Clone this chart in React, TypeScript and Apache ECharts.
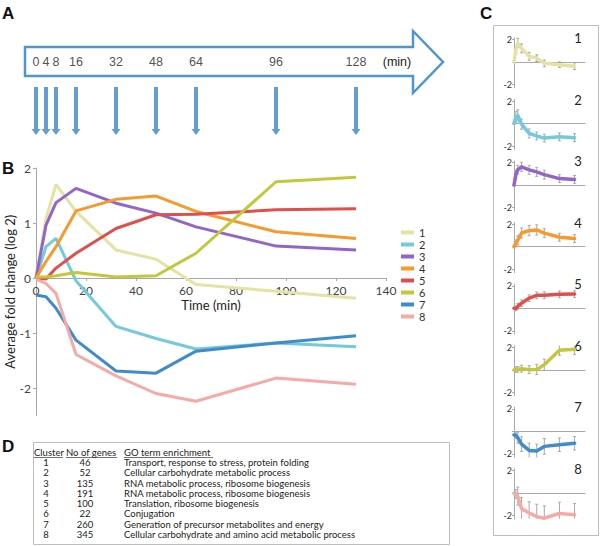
import React, { useEffect, useRef } from "react";
import * as echarts from "echarts";

// ---------- DATA ----------
const timePoints = [0, 4, 8, 16, 32, 48, 64, 96, 128];
const clusterNames = ["1", "2", "3", "4", "5", "6", "7", "8"];
const clusterColors = ["#e4e3a3", "#72cadb", "#9265c6", "#f7992d", "#df4f4b", "#c3c73b", "#3f8cca", "#f5aaa5"];

const c1 = [0, 1.08, 1.7, 1.21, 0.51, 0.34, -0.12, -0.24, -0.37];
const c2 = [0, 0.57, 0.72, -0.05, -0.88, -1.1, -1.29, -1.18, -1.25];
const c3 = [0, 0.96, 1.37, 1.63, 1.36, 1.18, 0.93, 0.58, 0.51];
const c4 = [0, 0.3, 0.57, 1.22, 1.43, 1.49, 1.21, 0.84, 0.72];
const c5 = [0, -0.02, 0.18, 0.45, 0.9, 1.15, 1.16, 1.24, 1.26];
const c6 = [0.02, 0.02, 0.04, 0.1, 0.02, 0.04, 0.45, 1.75, 1.83];
const c7 = [-0.31, -0.34, -0.55, -1.13, -1.69, -1.73, -1.33, -1.18, -1.05];
const c8 = [-0.02, -0.1, -0.28, -1.39, -1.78, -2.1, -2.24, -1.82, -1.93];
const clusterValues = [c1, c2, c3, c4, c5, c6, c7, c8];

const sd1 = [0.1, 0.3, 0.4, 0.4, 0.35, 0.3, 0.3, 0.25, 0.3];
const sd2 = [0.1, 0.5, 0.5, 0.45, 0.4, 0.35, 0.35, 0.35, 0.35];
const sd3 = [0.1, 0.35, 0.4, 0.4, 0.4, 0.4, 0.4, 0.35, 0.35];
const sd4 = [0.1, 0.3, 0.4, 0.45, 0.45, 0.45, 0.4, 0.35, 0.35];
const sd5 = [0.1, 0.2, 0.25, 0.3, 0.3, 0.3, 0.3, 0.3, 0.3];
const sd6 = [0.15, 0.25, 0.25, 0.3, 0.35, 0.45, 0.5, 0.45, 0.45];
const sd7 = [0.1, 0.3, 0.5, 0.65, 0.65, 0.6, 0.7, 0.6, 0.6];
const sd8 = [0.1, 0.4, 0.8, 1.0, 1.0, 1.1, 1.1, 1.0, 1.0];
const clusterSd = [sd1, sd2, sd3, sd4, sd5, sd6, sd7, sd8];

const bTicks = [-2, -1, 0, 1, 2];
const cTicks = [-2, 2];

const geneCounts = ["46", "52", "135", "191", "100", "22", "260", "345"];
const goTerms = [
  "Transport, response to stress, protein folding",
  "Cellular carbohydrate metabolic process",
  "RNA metabolic process, ribosome biogenesis",
  "RNA metabolic process, ribosome biogenesis",
  "Translation, ribosome biogenesis",
  "Conjugation",
  "Generation of precursor metabolites and energy",
  "Cellular carbohydrate and amino acid metabolic process",
];
const tableHeaders = ["Cluster", "No of genes", "GO term enrichment"];

// ---------- LAYOUT ----------
const FONT = "Lato, 'Noto Sans', sans-serif";
const ARIAL = "'Liberation Sans', Arial, sans-serif";
const B_LEFT = 36;
const B_WIDTH = 350;
const B_TOP = 168;
const B_MIN = -2.5;
const B_MAX = 2;
const B_UNIT = 55;
const C_LEFT = 514;
const C_WIDTH = 71;
const C_ZERO0 = 62;
const C_STEP = 61.57;
const C_UNIT = 11.25;
const C_MIN = -2.3;
const C_MAX = 2.15;

export default function App() {
  const ref = useRef<HTMLDivElement>(null);

  useEffect(() => {
    document.body.style.margin = "0";
    const chart = echarts.init(ref.current!, null, { renderer: "svg" });

    const bHeight = (B_MAX - B_MIN) * B_UNIT;
    const bZeroOffset = -(-B_MIN * B_UNIT); // move the x axis up from the grid bottom to y = 0

    const grids: any[] = [
      { left: B_LEFT, top: 30, width: B_WIDTH, height: 100, outerBoundsMode: "none" },
      { left: B_LEFT, top: B_TOP, width: B_WIDTH, height: bHeight, outerBoundsMode: "none" },
    ];
    const xAxes: any[] = [
      { gridIndex: 0, type: "value", min: 0, max: 140, show: false },
      {
        gridIndex: 1,
        type: "value",
        min: 0,
        max: 140,
        interval: 20,
        position: "bottom",
        offset: bZeroOffset,
        axisLine: { onZero: false, lineStyle: { color: "#a8a8a8", width: 1 } },
        axisTick: { show: true, length: 3, lineStyle: { color: "#a8a8a8" } },
        axisLabel: { fontSize: 12, color: "#444", fontFamily: FONT, margin: 6 },
        splitLine: { show: false },
        name: "Time (min)",
        nameLocation: "middle",
        nameGap: 20,
        nameMoveOverlap: false,
        nameTextStyle: { fontSize: 13, color: "#222", fontFamily: FONT },
      },
    ];
    const yAxes: any[] = [
      { gridIndex: 0, type: "value", min: 0, max: 100, inverse: true, show: false },
      {
        gridIndex: 1,
        type: "value",
        min: B_MIN,
        max: B_MAX,
        axisLine: { show: true, lineStyle: { color: "#a8a8a8", width: 1 } },
        axisTick: { show: true, length: 3, customValues: bTicks, lineStyle: { color: "#a8a8a8" } },
        axisLabel: { customValues: bTicks, fontSize: 12, color: "#444", fontFamily: FONT, margin: 5 },
        splitLine: { show: false },
        name: "Average fold change (log 2)",
        nameLocation: "middle",
        nameGap: 20,
        nameMoveOverlap: false,
        nameTextStyle: { fontSize: 13, color: "#222", fontFamily: FONT },
      },
    ];

    const series: any[] = [];

    // Panel A: time labels and sampling arrows
    series.push({
      type: "scatter",
      xAxisIndex: 0,
      yAxisIndex: 0,
      symbolSize: 1,
      itemStyle: { color: "rgba(0,0,0,0)" },
      silent: true,
      data: timePoints.map((t) => [t, 32]),
      label: {
        show: true,
        position: "inside",
        formatter: (p: any) => String(p.value[0]),
        fontSize: 12.5,
        color: "#222",
        fontFamily: ARIAL,
      },
    });
    series.push({
      type: "scatter",
      xAxisIndex: 0,
      yAxisIndex: 0,
      symbol: "path://M2.5,0 H6.5 V42 H9 L4.5,48 L0,42 H2.5 Z",
      symbolSize: [9, 48],
      itemStyle: { color: "#3d84c4" },
      silent: true,
      data: timePoints.map((t) => [t, 81]),
    });

    // Panel B: main lines
    clusterValues.forEach((vals, i) => {
      series.push({
        name: clusterNames[i],
        type: "line",
        xAxisIndex: 1,
        yAxisIndex: 1,
        showSymbol: false,
        lineStyle: { width: 3, color: clusterColors[i] },
        itemStyle: { color: clusterColors[i] },
        data: timePoints.map((t, j) => [t, vals[j]]),
      });
    });

    // Panel C: mini charts
    clusterValues.forEach((vals, i) => {
      const gi = i + 2;
      const zero = C_ZERO0 + i * C_STEP;
      grids.push({
        left: C_LEFT,
        top: zero - C_MAX * C_UNIT,
        width: C_WIDTH,
        height: (C_MAX - C_MIN) * C_UNIT,
        outerBoundsMode: "none",
      });
      xAxes.push({
        gridIndex: gi,
        type: "value",
        min: 0,
        max: 150,
        axisLine: { onZero: true, lineStyle: { color: "#aaa", width: 1 } },
        axisTick: { show: false },
        axisLabel: { show: false },
        splitLine: { show: false },
      });
      yAxes.push({
        gridIndex: gi,
        type: "value",
        min: C_MIN,
        max: C_MAX,
        axisLine: { show: true, lineStyle: { color: "#aaa", width: 1 } },
        axisTick: { show: true, length: 2, customValues: [-2, 0, 2], lineStyle: { color: "#aaa" } },
        axisLabel: { customValues: cTicks, fontSize: 9, color: "#333", fontFamily: FONT, margin: 2 },
        splitLine: { show: false },
      });
      const sd = clusterSd[i];
      series.push({
        type: "custom",
        xAxisIndex: gi,
        yAxisIndex: gi,
        silent: true,
        clip: true,
        z: 1,
        data: timePoints.map((t, j) => [t, vals[j], sd[j]]),
        renderItem: (params: any, api: any) => {
          const x = api.value(0);
          const m = api.value(1);
          const s = api.value(2);
          const top = api.coord([x, m + s]);
          const bot = api.coord([x, m - s]);
          const st = { stroke: "#a9a9a9", lineWidth: 1 };
          return {
            type: "group",
            children: [
              { type: "line", shape: { x1: top[0], y1: top[1], x2: bot[0], y2: bot[1] }, style: st },
              { type: "line", shape: { x1: top[0] - 1.5, y1: top[1], x2: top[0] + 1.5, y2: top[1] }, style: st },
              { type: "line", shape: { x1: bot[0] - 1.5, y1: bot[1], x2: bot[0] + 1.5, y2: bot[1] }, style: st },
            ],
          };
        },
      });
      series.push({
        name: "mini" + clusterNames[i],
        type: "line",
        xAxisIndex: gi,
        yAxisIndex: gi,
        showSymbol: false,
        z: 3,
        lineStyle: { width: 3.5, color: clusterColors[i], join: "round", cap: "round" },
        itemStyle: { color: clusterColors[i] },
        data: timePoints.map((t, j) => [t, vals[j]]),
      });
    });

    // Graphics: panel letters, arrow outline, boxes, table
    const graphics: any[] = [];
    const letter = (txt: string, x: number, y: number) => ({
      type: "text",
      left: x,
      top: y,
      style: { text: txt, font: `bold 17px ${ARIAL}`, fill: "#111" },
    });
    graphics.push(letter("A", 2, 5));
    graphics.push(letter("B", 2, 160));
    graphics.push(letter("C", 480, 5));
    graphics.push(letter("D", 2, 438));

    graphics.push({
      type: "polygon",
      z: -1,
      shape: {
        points: [
          [25, 47],
          [413, 47],
          [413, 31],
          [443, 62],
          [413, 93],
          [413, 76],
          [25, 76],
        ],
      },
      style: { fill: "#fff", stroke: "#4f95cf", lineWidth: 2.5 },
    });
    graphics.push({
      type: "text",
      x: 397,
      y: 62,
      style: { text: "(min)", font: `12.5px ${ARIAL}`, fill: "#222", textAlign: "center", textVerticalAlign: "middle" },
    });

    // Panel C box and numbers
    graphics.push({
      type: "rect",
      z: -1,
      shape: { x: 493.5, y: 25.5, width: 105, height: 510 },
      style: { fill: "#fff", stroke: "#bdbdbd", lineWidth: 1 },
    });
    clusterNames.forEach((n, i) => {
      graphics.push({
        type: "text",
        x: 578,
        y: C_ZERO0 + i * C_STEP - 24,
        style: { text: n, font: `13px ${FONT}`, fill: "#222", textAlign: "center", textVerticalAlign: "middle" },
      });
    });

    // Panel D box and table
    graphics.push({
      type: "rect",
      z: -1,
      shape: { x: 33.5, y: 442.5, width: 416, height: 102 },
      style: { fill: "#fff", stroke: "#bdbdbd", lineWidth: 1 },
    });
    const headerX = [34, 66, 124];
    const headerW = [29, 51, 89];
    tableHeaders.forEach((h, i) => {
      graphics.push({
        type: "text",
        x: headerX[i],
        y: 452,
        style: { text: h, font: `9.5px ${FONT}`, fill: "#222", textAlign: "left", textVerticalAlign: "middle" },
      });
      graphics.push({
        type: "line",
        shape: { x1: headerX[i], y1: 457.5, x2: headerX[i] + headerW[i], y2: 457.5 },
        style: { stroke: "#333", lineWidth: 0.7 },
      });
    });
    clusterNames.forEach((n, i) => {
      const y = 462.5 + i * 10.25;
      graphics.push({
        type: "text",
        x: 46,
        y,
        style: { text: n, font: `9.5px ${FONT}`, fill: "#222", textAlign: "center", textVerticalAlign: "middle" },
      });
      graphics.push({
        type: "text",
        x: 85,
        y,
        style: { text: geneCounts[i], font: `9.5px ${FONT}`, fill: "#222", textAlign: "center", textVerticalAlign: "middle" },
      });
      graphics.push({
        type: "text",
        x: 124,
        y,
        style: { text: goTerms[i], font: `9.5px ${FONT}`, fill: "#222", textAlign: "left", textVerticalAlign: "middle" },
      });
    });

    chart.setOption({
      animation: false,
      backgroundColor: "#fff",
      grid: grids,
      xAxis: xAxes,
      yAxis: yAxes,
      legend: {
        data: clusterNames,
        orient: "vertical",
        left: 401,
        top: 227,
        padding: 0,
        itemGap: 1,
        itemWidth: 13,
        itemHeight: 4,
        icon: "rect",
        selectedMode: false,
        textStyle: { fontSize: 11, color: "#333", fontFamily: FONT, lineHeight: 11 },
      },
      graphic: graphics,
      series,
    });

    return () => chart.dispose();
  }, []);

  return <div ref={ref} style={{ width: 600, height: 546 }} />;
}
